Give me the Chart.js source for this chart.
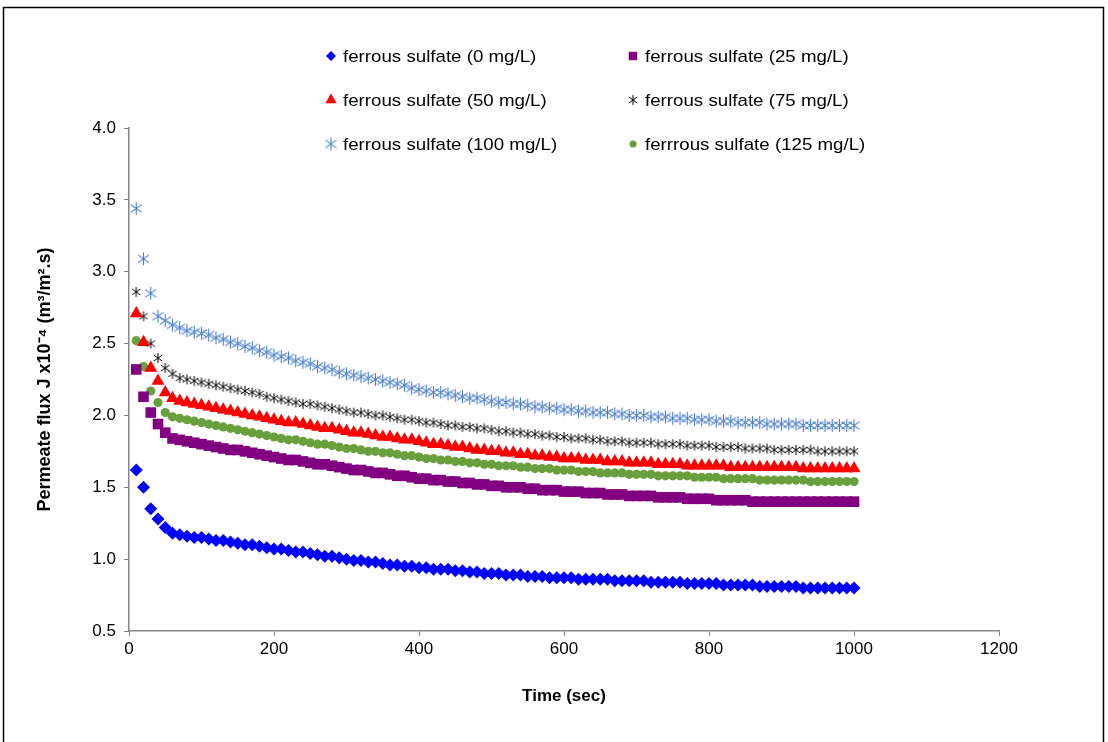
<!DOCTYPE html>
<html>
<head>
<meta charset="utf-8">
<script src="https://cdn.jsdelivr.net/npm/chart.js@4/dist/chart.umd.min.js"></script>
<style>
  html, body { margin: 0; padding: 0; background: #fff; }
  #wrap { width: 1108px; height: 742px; position: relative; }
</style>
</head>
<body>
<div id="wrap"><canvas id="flux"></canvas></div>
<script>
'use strict';

// sample times (sec)
const TIME = [
  10, 20, 30, 40, 50, 60, 70, 80, 90, 100,
  110, 120, 130, 140, 150, 160, 170, 180, 190, 200,
  210, 220, 230, 240, 250, 260, 270, 280, 290, 300,
  310, 320, 330, 340, 350, 360, 370, 380, 390, 400,
  410, 420, 430, 440, 450, 460, 470, 480, 490, 500,
  510, 520, 530, 540, 550, 560, 570, 580, 590, 600,
  610, 620, 630, 640, 650, 660, 670, 680, 690, 700,
  710, 720, 730, 740, 750, 760, 770, 780, 790, 800,
  810, 820, 830, 840, 850, 860, 870, 880, 890, 900,
  910, 920, 930, 940, 950, 960, 970, 980, 990, 1000
];

// permeate flux J x10^-4 (m3/m2.s), one list per dose
const FS_0 = [
  1.62, 1.50, 1.35, 1.28, 1.22, 1.18, 1.17, 1.16, 1.15, 1.15,
  1.14, 1.13, 1.13, 1.12, 1.11, 1.10, 1.10, 1.09, 1.08, 1.07,
  1.07, 1.06, 1.05, 1.05, 1.04, 1.03, 1.02, 1.02, 1.01, 1.00,
  0.99, 0.99, 0.98, 0.98, 0.97, 0.96, 0.96, 0.95, 0.95, 0.94,
  0.94, 0.93, 0.93, 0.93, 0.92, 0.92, 0.91, 0.91, 0.90, 0.90,
  0.90, 0.89, 0.89, 0.89, 0.88, 0.88, 0.88, 0.87, 0.87, 0.87,
  0.87, 0.86, 0.86, 0.86, 0.86, 0.86, 0.85, 0.85, 0.85, 0.85,
  0.85, 0.84, 0.84, 0.84, 0.84, 0.84, 0.83, 0.83, 0.83, 0.83,
  0.83, 0.82, 0.82, 0.82, 0.82, 0.82, 0.81, 0.81, 0.81, 0.81,
  0.81, 0.81, 0.80, 0.80, 0.80, 0.80, 0.80, 0.80, 0.80, 0.80
];
const FS_25 = [
  2.32, 2.13, 2.02, 1.94, 1.88, 1.84, 1.83, 1.82, 1.81, 1.80,
  1.79, 1.78, 1.77, 1.76, 1.76, 1.75, 1.74, 1.73, 1.72, 1.71,
  1.70, 1.69, 1.69, 1.68, 1.67, 1.66, 1.66, 1.65, 1.64, 1.63,
  1.62, 1.62, 1.61, 1.60, 1.60, 1.59, 1.58, 1.58, 1.57, 1.56,
  1.56, 1.55, 1.55, 1.54, 1.54, 1.53, 1.53, 1.52, 1.52, 1.51,
  1.51, 1.50, 1.50, 1.50, 1.49, 1.49, 1.48, 1.48, 1.48, 1.47,
  1.47, 1.47, 1.46, 1.46, 1.46, 1.45, 1.45, 1.45, 1.44, 1.44,
  1.44, 1.44, 1.43, 1.43, 1.43, 1.43, 1.42, 1.42, 1.42, 1.42,
  1.41, 1.41, 1.41, 1.41, 1.41, 1.40, 1.40, 1.40, 1.40, 1.40,
  1.40, 1.40, 1.40, 1.40, 1.40, 1.40, 1.40, 1.40, 1.40, 1.40
];
const FS_50 = [
  2.71, 2.51, 2.33, 2.24, 2.16, 2.12, 2.10, 2.09, 2.08, 2.07,
  2.06, 2.05, 2.04, 2.03, 2.02, 2.01, 2.00, 1.99, 1.98, 1.97,
  1.96, 1.95, 1.95, 1.94, 1.93, 1.92, 1.91, 1.91, 1.90, 1.89,
  1.88, 1.88, 1.87, 1.86, 1.85, 1.85, 1.84, 1.83, 1.83, 1.82,
  1.81, 1.80, 1.80, 1.79, 1.78, 1.78, 1.77, 1.76, 1.76, 1.75,
  1.75, 1.74, 1.74, 1.73, 1.73, 1.72, 1.72, 1.71, 1.71, 1.70,
  1.70, 1.70, 1.69, 1.69, 1.69, 1.68, 1.68, 1.68, 1.67, 1.67,
  1.67, 1.67, 1.66, 1.66, 1.66, 1.66, 1.65, 1.65, 1.65, 1.65,
  1.65, 1.65, 1.64, 1.64, 1.64, 1.64, 1.64, 1.64, 1.64, 1.64,
  1.64, 1.64, 1.63, 1.63, 1.63, 1.63, 1.63, 1.63, 1.63, 1.63
];
const FS_75 = [
  2.86, 2.69, 2.50, 2.40, 2.33, 2.29, 2.26, 2.25, 2.24, 2.23,
  2.22, 2.21, 2.20, 2.19, 2.18, 2.17, 2.16, 2.15, 2.13, 2.12,
  2.11, 2.10, 2.09, 2.08, 2.08, 2.07, 2.06, 2.05, 2.04, 2.03,
  2.02, 2.02, 2.01, 2.00, 2.00, 1.99, 1.98, 1.97, 1.97, 1.96,
  1.95, 1.95, 1.94, 1.93, 1.93, 1.92, 1.92, 1.91, 1.91, 1.90,
  1.89, 1.89, 1.88, 1.88, 1.87, 1.87, 1.86, 1.86, 1.85, 1.85,
  1.84, 1.84, 1.84, 1.83, 1.83, 1.82, 1.82, 1.82, 1.81, 1.81,
  1.81, 1.81, 1.80, 1.80, 1.80, 1.80, 1.79, 1.79, 1.79, 1.79,
  1.78, 1.78, 1.78, 1.78, 1.77, 1.77, 1.77, 1.77, 1.76, 1.76,
  1.76, 1.76, 1.76, 1.76, 1.75, 1.75, 1.75, 1.75, 1.75, 1.75
];
const FS_100 = [
  3.44, 3.09, 2.85, 2.69, 2.66, 2.63, 2.61, 2.59, 2.58, 2.57,
  2.56, 2.54, 2.53, 2.51, 2.50, 2.48, 2.47, 2.45, 2.44, 2.42,
  2.41, 2.40, 2.38, 2.37, 2.36, 2.34, 2.33, 2.32, 2.30, 2.29,
  2.28, 2.27, 2.26, 2.25, 2.24, 2.23, 2.22, 2.21, 2.19, 2.18,
  2.17, 2.16, 2.16, 2.15, 2.14, 2.13, 2.12, 2.12, 2.11, 2.10,
  2.09, 2.09, 2.08, 2.08, 2.07, 2.06, 2.06, 2.05, 2.05, 2.04,
  2.04, 2.03, 2.03, 2.02, 2.02, 2.02, 2.01, 2.01, 2.00, 2.00,
  2.00, 1.99, 1.99, 1.99, 1.98, 1.98, 1.98, 1.97, 1.97, 1.97,
  1.96, 1.96, 1.96, 1.95, 1.95, 1.95, 1.95, 1.94, 1.94, 1.94,
  1.94, 1.94, 1.93, 1.93, 1.93, 1.93, 1.93, 1.93, 1.93, 1.93
];
const FS_125 = [
  2.52, 2.34, 2.17, 2.09, 2.02, 1.99, 1.98, 1.97, 1.96, 1.95,
  1.94, 1.93, 1.92, 1.91, 1.90, 1.89, 1.88, 1.87, 1.86, 1.85,
  1.84, 1.83, 1.83, 1.82, 1.81, 1.80, 1.80, 1.79, 1.78, 1.77,
  1.77, 1.76, 1.75, 1.75, 1.74, 1.74, 1.73, 1.72, 1.72, 1.71,
  1.70, 1.70, 1.69, 1.69, 1.68, 1.68, 1.67, 1.67, 1.66, 1.66,
  1.65, 1.65, 1.65, 1.64, 1.64, 1.63, 1.63, 1.63, 1.62, 1.62,
  1.62, 1.61, 1.61, 1.61, 1.60, 1.60, 1.60, 1.60, 1.59, 1.59,
  1.59, 1.59, 1.58, 1.58, 1.58, 1.58, 1.58, 1.57, 1.57, 1.57,
  1.57, 1.56, 1.56, 1.56, 1.56, 1.56, 1.55, 1.55, 1.55, 1.55,
  1.55, 1.55, 1.55, 1.54, 1.54, 1.54, 1.54, 1.54, 1.54, 1.54
];

const SERIES_LABELS = [
  'ferrous sulfate (0 mg/L)',
  'ferrous sulfate (25 mg/L)',
  'ferrous sulfate (50 mg/L)',
  'ferrous sulfate (75 mg/L)',
  'ferrous sulfate (100 mg/L)',
  'ferrrous sulfate (125 mg/L)'
];
const X_TICKS = [0, 200, 400, 600, 800, 1000, 1200];
const Y_TICKS = [0.5, 1.0, 1.5, 2.0, 2.5, 3.0, 3.5, 4.0];

const FONT = '"Liberation Sans", Arial, sans-serif';
const AXIS_COLOR = '#868686';

// Excel-style "star" marker: an x with a vertical bar through it
function asterisk(color, r, lw) {
  const c = document.createElement('canvas');
  const s = Math.ceil(r * 2 + 2);
  c.width = s; c.height = s;
  const g = c.getContext('2d');
  const m = s / 2;
  g.strokeStyle = color; g.lineWidth = lw;
  g.beginPath();
  g.moveTo(m, m - r); g.lineTo(m, m + r);
  g.moveTo(m - r * 0.85, m - r * 0.6); g.lineTo(m + r * 0.85, m + r * 0.6);
  g.moveTo(m - r * 0.85, m + r * 0.6); g.lineTo(m + r * 0.85, m - r * 0.6);
  g.stroke();
  return c;
}

const pts = vals => TIME.map((t, i) => ({ x: t, y: vals[i] }));

const STYLES = [
  { color: '#0000FF', style: 'rectRot', radius: 6.5, legend: 5 },
  { color: '#800080', style: 'rect', radius: 7.5, legend: 6 },
  { color: '#FF0000', style: 'triangle', radius: 7.5, legend: 6.5 },
  { color: '#000000', style: asterisk('#000000', 5, 1), radius: 5, legend: 5 },
  { color: '#4A7CCC', style: asterisk('#4A7CCC', 6.5, 1.1), radius: 6.5, legend: 6.5 },
  { color: '#6A9F3E', style: 'circle', radius: 4.6, legend: 3.5 }
];
const VALUES = [FS_0, FS_25, FS_50, FS_75, FS_100, FS_125];

const datasets = VALUES.map((v, i) => ({
  label: SERIES_LABELS[i],
  data: pts(v),
  showLine: false,
  pointStyle: STYLES[i].style,
  pointRadius: STYLES[i].radius,
  pointHoverRadius: STYLES[i].radius,
  pointBackgroundColor: STYLES[i].color,
  pointBorderColor: STYLES[i].color,
  pointBorderWidth: 0
}));

// two-column legend above the plot, plus the outer frame
const legendAndFrame = {
  id: 'legendAndFrame',
  afterDraw(chart) {
    const ctx = chart.ctx;
    ctx.save();
    ctx.strokeStyle = '#000';
    ctx.lineWidth = 1.5;
    ctx.strokeRect(3.5, 7.5, 1100, 745);

    const cols = [331, 633];
    const rows = [56, 100, 144];
    ctx.font = '17px ' + FONT;
    ctx.textBaseline = 'middle';
    SERIES_LABELS.forEach((lbl, i) => {
      const x = cols[i % 2], y = rows[Math.floor(i / 2)];
      const st = STYLES[i];
      ctx.fillStyle = st.color;
      ctx.strokeStyle = st.color;
      Chart.helpers.drawPoint(ctx, {
        pointStyle: st.style, radius: st.legend, rotation: 0, borderWidth: 0
      }, x, y);
      // reference text runs a little wide
      ctx.save();
      ctx.translate(x + 12, y + 1);
      ctx.scale(1.1, 1);
      ctx.fillStyle = '#000';
      ctx.fillText(lbl, 0, 0);
      ctx.restore();
    });
    ctx.restore();
  }
};

new Chart(document.getElementById('flux'), {
  type: 'scatter',
  data: { datasets },
  plugins: [legendAndFrame],
  options: {
    responsive: true,
    maintainAspectRatio: false,
    animation: false,
    layout: { padding: { left: 25, top: 128, right: 109, bottom: 21 } },
    plugins: { legend: { display: false }, tooltip: { enabled: false } },
    scales: {
      x: {
        type: 'linear', min: 0, max: 1200,
        afterBuildTicks: s => { s.ticks = X_TICKS.map(v => ({ value: v })); },
        afterFit: s => { s.height = 90; },
        ticks: { color: '#000', font: { family: FONT, size: 17 }, padding: 3, maxRotation: 0,
          callback: v => String(v) },
        grid: { drawOnChartArea: false, tickLength: 5, color: AXIS_COLOR },
        border: { color: AXIS_COLOR, width: 1.5 },
        title: { display: true, text: 'Time (sec)', color: '#000',
          font: { family: FONT, size: 17, weight: 'bold' }, padding: { top: 4, bottom: 14 } }
      },
      y: {
        min: 0.5, max: 4.0,
        afterBuildTicks: s => { s.ticks = Y_TICKS.map(v => ({ value: v })); },
        afterFit: s => { s.width = 104; },
        ticks: { color: '#000', font: { family: FONT, size: 17 }, padding: 8,
          callback: v => v.toFixed(1) },
        grid: { drawOnChartArea: false, tickLength: 5, color: AXIS_COLOR },
        border: { color: AXIS_COLOR, width: 1.5 },
        title: { display: true, text: 'Permeate flux J x10\u207B\u2074 (m\u00B3/m\u00B2.s)', color: '#000',
          font: { family: FONT, size: 18, weight: 'bold' }, padding: { top: 9, bottom: 0 } }
      }
    }
  }
});
</script>
</body>
</html>
